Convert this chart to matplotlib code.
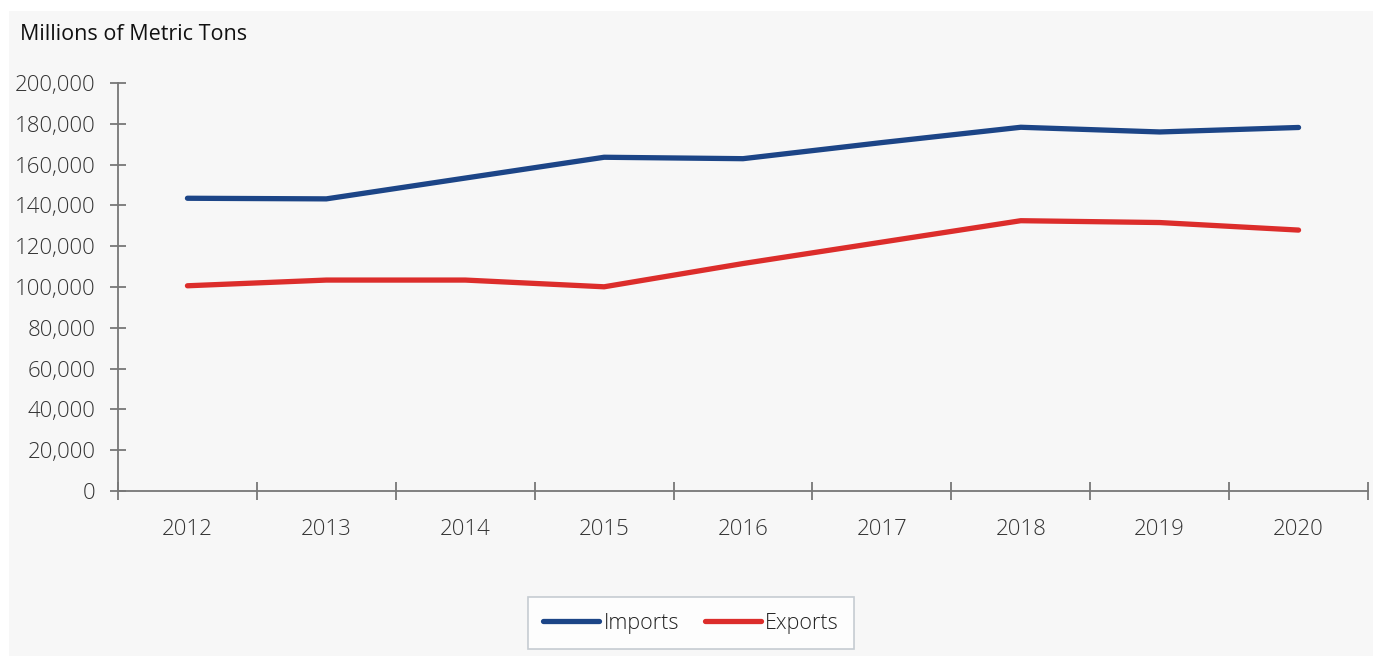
import matplotlib.pyplot as plt
from matplotlib.patches import Rectangle
from matplotlib.ticker import FuncFormatter

years = ["2012", "2013", "2014", "2015", "2016", "2017", "2018", "2019", "2020"]
imports = [143500, 143200, 153400, 163600, 162900, 170800, 178300, 176000, 178200]
exports = [100600, 103400, 103400, 100100, 111500, 122000, 132500, 131600, 127900]
y_ticks = [0, 20000, 40000, 60000, 80000, 100000, 120000, 140000, 160000, 180000, 200000]

plt.rcParams['font.family'] = ['Open Sans', 'DejaVu Sans']

fig = plt.figure(figsize=(13.73, 6.56), dpi=100)
fig.patch.set_facecolor('white')
# grey panel behind everything
fig.patches.append(Rectangle((9 / 1373, 0), 1, 1 - 11 / 656, transform=fig.transFigure,
                             facecolor='#f7f7f7', edgecolor='none', zorder=-10))

ax = fig.add_axes([118 / 1373, 1 - 491 / 656, 1250 / 1373, 408 / 656])
ax.set_facecolor('none')

x = range(len(years))
ax.plot(x, imports, color='#1c4587', lw=3.8, solid_capstyle='round', solid_joinstyle='round', label='Imports')
ax.plot(x, exports, color='#dc2d2b', lw=3.8, solid_capstyle='round', solid_joinstyle='round', label='Exports')

ax.set_xlim(-0.5, len(years) - 0.5)
ax.set_ylim(0, 200000)
ax.set_yticks(y_ticks)
ax.yaxis.set_major_formatter(FuncFormatter(lambda v, p: f"{int(v):,}"))
ax.set_xticks(list(x))
ax.set_xticklabels(years)
ax.set_xticks([i - 0.5 for i in range(len(years) + 1)], minor=True)

for s in ['top', 'right']:
    ax.spines[s].set_visible(False)
for s in ['left', 'bottom']:
    ax.spines[s].set_color('#777777')
    ax.spines[s].set_linewidth(1.3)

ax.tick_params(axis='y', direction='inout', length=12, width=1.3, color='#777777',
               labelsize=16, labelcolor='#333333', pad=10)
ax.tick_params(axis='x', which='major', length=0, labelsize=16, labelcolor='#333333', pad=20)
ax.tick_params(axis='x', which='minor', direction='inout', length=13, width=1.3, color='#777777')
for lab in ax.get_xticklabels() + ax.get_yticklabels():
    lab.set_fontweight('light')

fig.text(20 / 1373, 1 - 35 / 656, "Millions of Metric Tons", fontsize=15.5, color='#111111',
         va='center', ha='left')

leg = fig.legend(loc='center', bbox_to_anchor=(691 / 1373, 1 - 623 / 656), ncol=2,
                 fontsize=15.5, frameon=True, fancybox=False, handlelength=2.6,
                 handletextpad=0.2, columnspacing=1.2, borderpad=0.7)
leg.get_frame().set_edgecolor('#b8c0c8')
leg.get_frame().set_linewidth(1.2)
for t in leg.get_texts():
    t.set_color('#222222')
    t.set_fontweight('light')
for h in leg.get_lines():
    h.set_solid_capstyle('round')

fig.savefig('out.png', dpi=100)
